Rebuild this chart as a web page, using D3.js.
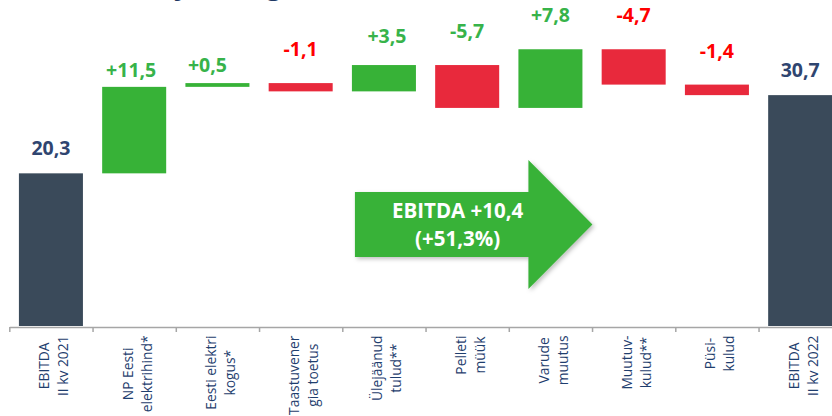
<!DOCTYPE html>
<html>
<head>
<meta charset="utf-8">
<script src="https://cdn.jsdelivr.net/npm/d3@7"></script>
<style>
  body { margin: 0; background: #fff; }
  svg { display: block; font-family: "Open Sans", "Noto Sans", sans-serif; }
</style>
</head>
<body>
<div id="chart"></div>
<script>
// categories (two lines each, rotated under the axis)
var categories = [
  ["EBITDA", "II kv 2021"],
  ["NP Eesti", "elektrihind*"],
  ["Eesti elektri", "kogus*"],
  ["Taastuvener", "gia toetus"],
  ["Ülejäänud", "tulud**"],
  ["Pelleti", "müük"],
  ["Varude", "muutus"],
  ["Muutuv-", "kulud**"],
  ["Püsi-", "kulud"],
  ["EBITDA", "II kv 2022"]
];
// "total" bars start from zero, the others are changes
var kinds = ["total", "delta", "delta", "delta", "delta", "delta", "delta", "delta", "delta", "total"];
var values = [20.3, 11.5, 0.5, -1.1, 3.5, -5.7, 7.8, -4.7, -1.4, 30.7];
var valueLabels = ["20,3", "+11,5", "+0,5", "-1,1", "+3,5", "-5,7", "+7,8", "-4,7", "-1,4", "30,7"];
var labelTone = ["total", "up", "up", "down", "up", "up", "up", "down", "down", "total"];
var arrowText = ["EBITDA +10,4", "(+51,3%)"];

// label lift above bar top, px (labels were placed by hand in the original)
var labelLift = [18, 10, 11, 27, 22, 27, 27, 27, 27, 18];
var labelShift = [0, -3, -10, 0, 3, 0, 0, 0, 0, 0];

var svgWidth = 832;
var svgHeight = 416;
var baseY = 326;

var colors = {
  total: "#3a4a5a",
  up: "#37b237",
  down: "#e8293c",
  labelUp: "#37b34a",
  labelDown: "#ff0000",
  labelTotal: "#2f4570",
  axisText: "#1f3e6e",
  axis: "#a6a6a6"
};

var svg = d3.select("#chart")
  .append("svg")
  .attr("width", svgWidth)
  .attr("height", svgHeight);

var defs = svg.append("defs");
var shadow = defs.append("filter").attr("id", "shadow")
  .attr("x", "-10%").attr("y", "-10%").attr("width", "130%").attr("height", "130%");
shadow.append("feDropShadow")
  .attr("dx", 2).attr("dy", 2).attr("stdDeviation", 2)
  .attr("flood-color", "#000").attr("flood-opacity", 0.25);

// title sits mostly above the visible area
svg.append("text")
  .attr("x", 12)
  .attr("y", -5)
  .attr("fill", "#1f3864")
  .attr("font-size", 26)
  .attr("font-weight", 700)
  .text("Kaevanduse ja energia EBITDA, mln €");

var x = d3.scaleBand()
  .domain(d3.range(categories.length))
  .range([9.3, 841.8])
  .paddingInner(0.231)
  .paddingOuter(0.1155);

var y = d3.scaleLinear()
  .domain([0, 43.35])
  .range([baseY, 0]);

// running totals for the waterfall
var running = 0;
var bars = values.map(function(v, i) {
  var start, end;
  if (kinds[i] === "total") {
    start = 0;
    end = v;
    running = v;
  } else {
    start = running;
    end = running + v;
    running = end;
  }
  return { i: i, start: start, end: end, v: v, kind: kinds[i] };
});

svg.selectAll("rect.bar")
  .data(bars)
  .enter()
  .append("rect")
  .attr("class", "bar")
  .attr("x", d => x(d.i))
  .attr("width", x.bandwidth())
  .attr("y", d => y(Math.max(d.start, d.end)))
  .attr("height", d => Math.abs(y(d.start) - y(d.end)))
  .attr("fill", d => d.kind === "total" ? colors.total : (d.v >= 0 ? colors.up : colors.down));

// value labels
svg.selectAll("text.value")
  .data(bars)
  .enter()
  .append("text")
  .attr("class", "value")
  .attr("x", d => x(d.i) + x.bandwidth() / 2 + labelShift[d.i])
  .attr("y", d => y(Math.max(d.start, d.end)) - labelLift[d.i])
  .attr("text-anchor", "middle")
  .attr("font-size", 19.5)
  .attr("font-weight", 700)
  .attr("fill", d => labelTone[d.i] === "total" ? colors.labelTotal :
    (labelTone[d.i] === "up" ? colors.labelUp : colors.labelDown))
  .text(d => valueLabels[d.i]);

// axis with ticks on the band edges
var edge = d3.scaleLinear()
  .domain([0, categories.length])
  .range([x.range()[0], x.range()[1]]);

var axis = svg.append("g")
  .attr("transform", `translate(0, ${baseY + 1})`)
  .call(d3.axisBottom(edge)
    .tickValues(d3.range(categories.length + 1))
    .tickFormat("")
    .tickSize(5)
    .tickSizeOuter(0));
axis.selectAll("path, line")
  .attr("stroke", colors.axis)
  .attr("stroke-width", 1.5);

// category labels, rotated, lines centred on each other
var catGroups = svg.selectAll("g.cat")
  .data(categories)
  .enter()
  .append("g")
  .attr("class", "cat");

catGroups.each(function(lines, i) {
  var g = d3.select(this);
  var cx = x(i) + x.bandwidth() / 2;
  var texts = lines.map(function(line, k) {
    return g.append("text")
      .attr("font-size", 13.8)
      .attr("fill", colors.axisText)
      .attr("text-anchor", "middle")
      .text(line);
  });
  var longest = d3.max(texts, t => t.node().getComputedTextLength());
  var midY = 335.5 + longest / 2;
  texts.forEach(function(t, k) {
    var bx = cx + (k - (lines.length - 1) / 2) * 19 + 8;
    t.attr("transform", `translate(${bx}, ${midY}) rotate(-90)`);
  });
});

// arrow annotation
var ax0 = x(4) + 3;
var axTip = x(6) + x.bandwidth() + 10;
var axHead = x(6) + 10;
var ay = y(13.5);
var arrow = svg.append("g");
arrow.append("path")
  .attr("d", d3.line()([
    [ax0, ay - 32.5], [axHead, ay - 32.5], [axHead, ay - 64.5], [axTip, ay],
    [axHead, ay + 64.5], [axHead, ay + 32.5], [ax0, ay + 32.5]
  ]) + "Z")
  .attr("fill", colors.up)
  .attr("filter", "url(#shadow)");

arrow.selectAll("text")
  .data(arrowText)
  .enter()
  .append("text")
  .attr("x", (ax0 + axHead) / 2 + 16)
  .attr("y", (d, k) => ay - 6 + k * 28)
  .attr("text-anchor", "middle")
  .attr("font-size", 20.5)
  .attr("font-weight", 700)
  .attr("fill", "#fff")
  .text(d => d);
</script>
</body>
</html>
